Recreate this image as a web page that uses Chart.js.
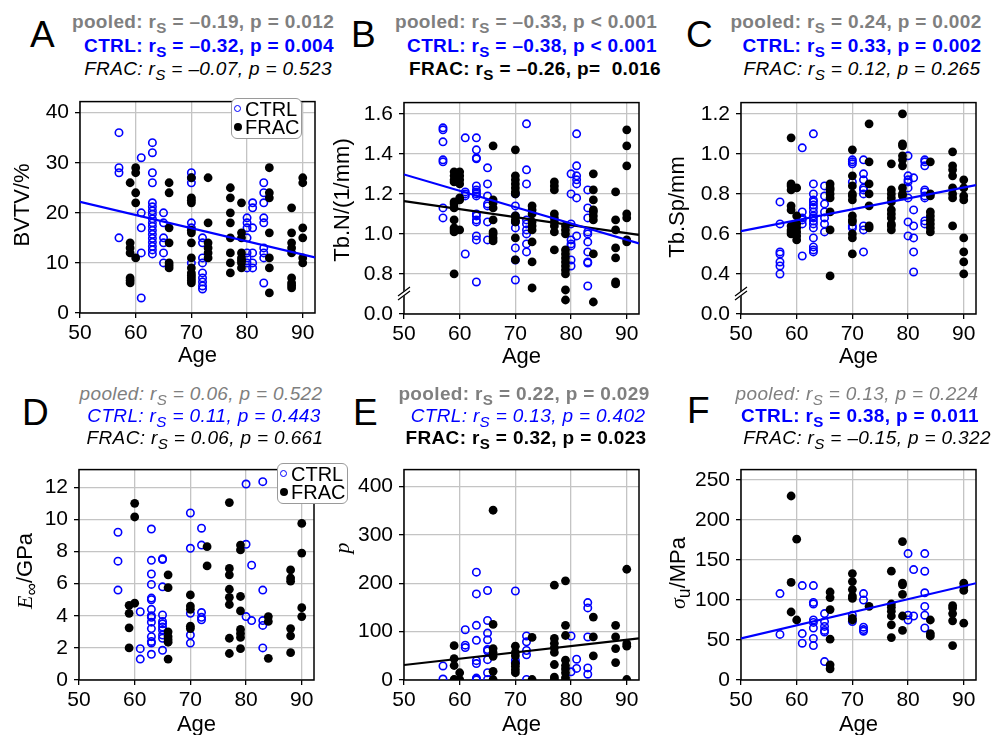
<!DOCTYPE html>
<html>
<head>
<meta charset="utf-8">
<script src="https://cdn.jsdelivr.net/npm/chart.js@4.4.1/dist/chart.umd.min.js"></script>
<style>
body { margin: 0; background: #fff; width: 993px; height: 735px; overflow: hidden; position: relative; font-family: "Liberation Sans", Arial, sans-serif; }
canvas { position: absolute; }
.t { position: absolute; width: 400px; text-align: center; font-size: 19px; line-height: 19px; letter-spacing: 0.35px; white-space: nowrap; }
.b { font-weight: bold; }
.i { font-style: italic; }
.g { color: #7f7f7f; }
.bl { color: #0000ff; }
.k { color: #000; }
.s { font-size: 0.8em; position: relative; top: 0.3em; }
.lt { position: absolute; font-size: 37px; line-height: 37px; }
.yt { position: absolute; font-size: 22px; line-height: 22px; white-space: nowrap; transform: translate(-50%, -50%) rotate(-90deg); }
.serif { font-family: "Liberation Serif", "DejaVu Serif", serif; font-style: italic; }
.leg { position: absolute; box-sizing: border-box; width: 71px; height: 41px; border: 1px solid #9a9a9a; border-radius: 6px; background: #fff; font-size: 20px; line-height: 20px; }
.leg .mc { position: absolute; left: 2px; top: 6px; width: 5px; height: 5px; border: 1.5px solid #0000ff; border-radius: 50%; }
.leg .mf { position: absolute; left: 2px; top: 24px; width: 8px; height: 8px; background: #000; border-radius: 50%; }
.leg .l1 { position: absolute; left: 13px; top: 0px; }
.leg .l2 { position: absolute; left: 13px; top: 18px; }
</style>
</head>
<body>

<canvas id="cA" width="305" height="286" style="left:20px;top:83px"></canvas>
<canvas id="cB" width="305" height="286" style="left:344px;top:84px"></canvas>
<canvas id="cC" width="305" height="286" style="left:681px;top:84px"></canvas>
<canvas id="cD" width="305" height="287" style="left:19px;top:451px"></canvas>
<canvas id="cE" width="305" height="287" style="left:344px;top:451px"></canvas>
<canvas id="cF" width="305" height="287" style="left:681px;top:451px"></canvas>

<div class="lt" style="left:30px;top:16px">A</div>
<div class="lt" style="left:351px;top:16px">B</div>
<div class="lt" style="left:686px;top:16px">C</div>
<div class="lt" style="left:22px;top:394px">D</div>
<div class="lt" style="left:353px;top:394px">E</div>
<div class="lt" style="left:687px;top:392px">F</div>

<div class="t b g" style="left:3px;top:12px">pooled: r<span class="s">S</span> = –0.19, p = 0.012</div>
<div class="t b bl" style="left:9px;top:36px">CTRL: r<span class="s">S</span> = –0.32, p = 0.004</div>
<div class="t i k" style="left:8px;top:59px">FRAC: r<span class="s">S</span> = –0.07, p = 0.523</div>

<div class="t b g" style="left:326px;top:12px">pooled: r<span class="s">S</span> = –0.33, p &lt; 0.001</div>
<div class="t b bl" style="left:332px;top:36px">CTRL: r<span class="s">S</span> = –0.38, p &lt; 0.001</div>
<div class="t b k" style="left:335px;top:59px">FRAC: r<span class="s">S</span> = –0.26, p=&nbsp; 0.016</div>

<div class="t b g" style="left:656px;top:12px">pooled: r<span class="s">S</span> = 0.24, p = 0.002</div>
<div class="t b bl" style="left:662px;top:36px">CTRL: r<span class="s">S</span> = 0.33, p = 0.002</div>
<div class="t i k" style="left:662px;top:59px">FRAC: r<span class="s">S</span> = 0.12, p = 0.265</div>

<div class="t i g" style="left:1px;top:384px">pooled: r<span class="s">S</span> = 0.06, p = 0.522</div>
<div class="t i bl" style="left:4px;top:406px">CTRL: r<span class="s">S</span> = 0.11, p = 0.443</div>
<div class="t i k" style="left:5px;top:428px">FRAC: r<span class="s">S</span> = 0.06, p = 0.661</div>

<div class="t b g" style="left:324px;top:384px">pooled: r<span class="s">S</span> = 0.22, p = 0.029</div>
<div class="t i bl" style="left:328px;top:406px">CTRL: r<span class="s">S</span> = 0.13, p = 0.402</div>
<div class="t b k" style="left:326px;top:428px">FRAC: r<span class="s">S</span> = 0.32, p = 0.023</div>

<div class="t i g" style="left:657px;top:384px">pooled: r<span class="s">S</span> = 0.13, p = 0.224</div>
<div class="t b bl" style="left:660px;top:406px">CTRL: r<span class="s">S</span> = 0.38, p = 0.011</div>
<div class="t i k" style="left:667px;top:428px">FRAC: r<span class="s">S</span> = –0.15, p = 0.322</div>

<div class="yt" style="left:22px;top:205px">BVTV/%</div>
<div class="yt" style="left:342px;top:200px">Tb.N/(1/mm)</div>
<div class="yt" style="left:677px;top:207px">Tb.Sp/mm</div>
<div class="yt" style="left:25px;top:571px"><span class="serif">E</span><span class="s">∞</span>/GPa</div>
<div class="yt" style="left:342px;top:548px"><span class="serif">p</span></div>
<div class="yt" style="left:678px;top:573px"><span class="serif">σ</span><span class="s">u</span>/MPa</div>

<div class="leg" style="left:231px;top:98px"><span class="mc"></span><span class="l1">CTRL</span><span class="mf"></span><span class="l2">FRAC</span></div>
<div class="leg" style="left:277px;top:463px"><span class="mc"></span><span class="l1">CTRL</span><span class="mf"></span><span class="l2">FRAC</span></div>

<script>
// x axis (age) shared by all panels
const ageTicks = [50, 60, 70, 80, 90];
const fitAges = [50, 92.2];

// A - BVTV/%
const bvtvCtrl = [
    [57, [36, 29, 28, 15]],
    [61, [31, 20, 17, 12, 3]],
    [63, [34, 32, 28, 26, 22, 21.2, 20.4, 19.7, 18.8, 18, 17.3, 16.5, 15.7, 14.9, 14.1, 13.3, 12.6, 11.8]],
    [65, [20, 18, 15, 14, 12, 10]],
    [70, [28, 27, 26, 18, 17, 10]],
    [72, [15, 14, 11, 10, 8, 7, 6.2, 5.4, 4.8]],
    [80, [19, 18, 17, 15, 12, 11, 10, 9]],
    [81, [22, 21, 17, 12, 10, 9]],
    [83, [26, 24, 22, 19, 18, 13, 12, 11, 6]]
];
const bvtvFrac = [
    [59, [26, 14, 13, 12, 7, 6.5, 6]],
    [60, [29, 28, 24, 22, 11]],
    [66, [26, 24, 17, 14, 10, 9.5, 9]],
    [70, [27, 23, 22.5, 22, 16.5, 16, 14, 11, 9, 8, 7.5, 7, 6.5, 6]],
    [73, [27, 18, 14, 13, 12, 11]],
    [77, [25, 23, 20, 18, 15, 12, 10, 8]],
    [79, [22, 16, 15, 12, 11, 10.5, 10, 9]],
    [84, [29, 24, 23, 16, 11, 9, 4]],
    [88, [21, 16, 14, 13, 12, 7, 6, 5.5, 5]],
    [90, [27, 26, 17, 15, 11, 10]]
];
const bvtvTicks = [0, 10, 20, 30, 40];
const bvtvLabels = ['0', '10', '20', '30', '40'];
const bvtvCtrlFit = [22.2, 11.1];

// B - Tb.N (axis broken, bottom tick shows 0.0)
const tbnCtrl = [
    [57, [1.53, 1.52, 1.46, 1.37, 1.36, 1.13, 1.08]],
    [61, [1.48, 1.21, 1.20, 1.19, 0.90]],
    [63, [1.48, 1.42, 1.38, 1.375, 1.24, 1.22, 1.21, 1.20, 1.19, 1.10, 1.09, 1.07, 1.06, 0.99, 0.97, 0.76]],
    [65, [1.33, 1.25, 1.19, 1.15, 1.14, 1.06, 0.97]],
    [70, [1.20, 1.14, 1.09, 1.06, 1.03, 0.93, 0.87, 0.77]],
    [72, [1.55, 1.32, 1.25, 1.07, 1.05, 1.02, 1.00, 0.95, 0.91]],
    [80, [1.30, 1.20, 1.05, 0.97, 0.95, 0.94, 0.87, 0.84]],
    [81, [1.50, 1.34, 1.29, 1.27, 1.25, 1.18, 0.99]],
    [83, [1.22, 1.13, 1.08, 1.01, 1.00, 0.96, 0.91, 0.86, 0.855, 0.74]]
];
const tbnFrac = [
    [59, [1.31, 1.29, 1.27, 1.26, 1.16, 1.15, 1.13, 1.07, 1.03, 1.02, 1.01, 0.80]],
    [60, [1.31, 1.29, 1.27, 1.25, 1.18, 1.17, 1.02]],
    [66, [1.44, 1.17, 1.155, 1.13, 1.07, 1.01, 1.00, 0.98, 0.965]],
    [70, [1.42, 1.29, 1.27, 1.25, 1.23, 1.21, 1.20, 1.09, 1.07, 1.06, 0.98, 0.87]],
    [73, [1.14, 1.12, 1.10, 1.06, 1.04, 1.02, 0.96, 0.86, 0.73]],
    [77, [1.26, 1.24, 1.22, 1.10, 1.08, 1.06, 1.04, 1.01, 0.92]],
    [79, [1.04, 1.02, 1.00, 0.92, 0.90, 0.88, 0.86, 0.84, 0.82, 0.80, 0.72, 0.67]],
    [84, [1.30, 1.22, 1.17, 1.12, 1.11, 1.09, 1.07, 0.90, 0.66]],
    [88, [1.21, 1.07, 1.02, 0.93, 0.88, 0.76, 0.75]],
    [90, [1.52, 1.44, 1.34, 1.10, 1.08, 0.97, 0.96]]
];
const tbnTicks = [0.6, 0.8, 1.0, 1.2, 1.4, 1.6];
const tbnLabels = ['0.0', '0.8', '1.0', '1.2', '1.4', '1.6'];
const tbnCtrlFit = [1.297, 0.953];
const tbnFracFit = [1.164, 0.995];

// C - Tb.Sp (axis broken, bottom tick shows 0.0)
const tbspCtrl = [
    [57, [0.76, 0.65, 0.51, 0.50, 0.46, 0.44, 0.40]],
    [61, [1.03, 0.71, 0.68, 0.67, 0.65, 0.49]],
    [63, [1.10, 0.85, 0.80, 0.77, 0.76, 0.745, 0.73, 0.71, 0.69, 0.68, 0.665, 0.65, 0.63, 0.58, 0.535, 0.52, 0.51]],
    [65, [0.84, 0.79, 0.75, 0.71, 0.68, 0.65, 0.61]],
    [70, [0.97, 0.96, 0.95, 0.86, 0.64, 0.63]],
    [72, [0.97, 0.90, 0.87, 0.83, 0.82, 0.80, 0.64, 0.62, 0.51]],
    [80, [0.99, 0.89, 0.87, 0.86, 0.83, 0.78, 0.66, 0.59]],
    [81, [0.88, 0.72, 0.64, 0.58, 0.51, 0.41]],
    [83, [0.97, 0.96, 0.94, 0.82, 0.81, 0.79, 0.78, 0.665, 0.65]]
];
const tbspFrac = [
    [59, [1.08, 0.85, 0.84, 0.82, 0.74, 0.72, 0.64, 0.62, 0.61, 0.60]],
    [60, [0.83, 0.69, 0.65, 0.63, 0.61, 0.59, 0.57]],
    [66, [0.85, 0.83, 0.82, 0.80, 0.78, 0.71, 0.62, 0.39]],
    [70, [1.02, 0.89, 0.84, 0.80, 0.79, 0.77, 0.69, 0.67, 0.66, 0.60, 0.58, 0.50]],
    [73, [1.15, 0.96, 0.85, 0.80, 0.74, 0.64, 0.63]],
    [77, [0.95, 0.82, 0.80, 0.78, 0.76, 0.72, 0.70, 0.68, 0.65, 0.64, 0.62]],
    [79, [1.20, 1.05, 1.04, 0.99, 0.97, 0.94, 0.83, 0.80, 0.79]],
    [84, [0.96, 0.80, 0.79, 0.71, 0.69, 0.67, 0.65, 0.63, 0.61]],
    [88, [1.01, 0.94, 0.92, 0.89, 0.83, 0.80, 0.78, 0.64]],
    [90, [0.87, 0.83, 0.79, 0.77, 0.58, 0.51, 0.46, 0.40]]
];
const tbspTicks = [0.2, 0.4, 0.6, 0.8, 1.0, 1.2];
const tbspLabels = ['0.0', '0.4', '0.6', '0.8', '1.0', '1.2'];
const tbspCtrlFit = [0.614, 0.844];

// D - E_inf / GPa
const einfCtrl = [
    [57, [9.2, 7.4, 5.6]],
    [61, [4.25, 1.95, 1.3]],
    [63, [9.4, 7.45, 6.6, 5.95, 5.1, 5.0, 4.4, 4.0, 3.9, 3.6, 3.2, 2.7, 2.4, 2.3, 1.6]],
    [65, [7.55, 7.5, 5.8, 4.05, 3.65, 3.5, 3.3, 3.1, 2.8, 2.6, 1.85]],
    [70, [10.4, 8.2, 4.15, 2.8, 2.3]],
    [72, [9.45, 8.4, 4.2, 3.9, 3.75]],
    [80, [12.2, 8.45, 3.95]],
    [81, [7.15, 3.7]],
    [83, [12.35, 5.6, 3.7, 3.4, 2.0]]
];
const einfFrac = [
    [59, [4.65, 4.15, 3.25, 2.0]],
    [60, [11.0, 10.15, 4.78]],
    [66, [6.55, 5.75, 3.0, 2.7, 2.5, 2.35, 1.3]],
    [70, [5.3, 4.6, 4.4, 3.35, 3.2]],
    [73, [8.3, 7.1]],
    [77, [11.05, 6.95, 6.55, 5.65, 5.15, 4.7, 2.6, 1.65]],
    [79, [8.4, 8.1, 5.2, 4.3, 3.15, 2.9, 2.65, 1.95]],
    [84, [3.95, 3.65, 1.35]],
    [88, [6.85, 6.35, 6.15, 3.2, 2.75, 1.7]],
    [90, [9.75, 7.9, 4.5, 3.95]]
];
const einfTicks = [0, 2, 4, 6, 8, 10, 12];
const einfLabels = ['0', '2', '4', '6', '8', '10', '12'];

// E - p
const pCtrl = [
    [57, [29, 2]],
    [61, [104, 72, 67]],
    [63, [223, 178, 113, 82, 40, 34, 4, 2, 0]],
    [65, [185, 123, 97, 83, 63, 60, 42, 15, 1]],
    [70, [184, 41, 36]],
    [72, [91, 79, 61, 52, 1]],
    [80, [91, 17]],
    [81, [43, 24]],
    [83, [160, 149, 89, 25, 12]]
];
const pFrac = [
    [59, [71, 44, 30, 1, 0]],
    [60, [15, 1]],
    [66, [351, 115, 65, 57, 49, 18, 1]],
    [70, [70, 57, 50, 34, 28, 21, 15]],
    [73, [88, 1]],
    [77, [196, 86, 76, 67, 57, 32, 6, 2]],
    [79, [205, 113, 92, 41, 30, 23, 15, 5, 0]],
    [84, [130, 89, 50]],
    [88, [113, 89, 65, 36]],
    [90, [229, 75, 70, 1]]
];
const pTicks = [0, 100, 200, 300, 400];
const pLabels = ['0', '100', '200', '300', '400'];
const pFracFit = [31, 86];

// F - sigma_u / MPa
const sigCtrl = [
    [57, [108, 57]],
    [61, [118, 58, 46]],
    [63, [118, 97, 95, 75, 72, 65, 52, 43]],
    [65, [83, 73, 67, 62, 60, 23]],
    [70, [81, 73]],
    [72, [108, 100, 66, 63, 61]],
    [80, [158, 81, 75]],
    [81, [138, 80]],
    [83, [158, 136, 109, 92, 81, 65]]
];
const sigFrac = [
    [59, [230, 122, 85]],
    [60, [176, 75]],
    [66, [110, 103, 88, 51, 19, 14]],
    [70, [133, 123, 113, 105, 102, 77, 75]],
    [73, [92]],
    [77, [136, 95, 91, 86, 80, 69, 53]],
    [79, [173, 121, 119, 107, 80, 62]],
    [84, [75, 58, 55]],
    [88, [93, 90, 83, 74, 43]],
    [90, [121, 117, 112, 71]]
];
const sigTicks = [0, 50, 100, 150, 200, 250];
const sigLabels = ['0', '50', '100', '150', '200', '250'];
const sigCtrlFit = [52, 121];

const BLUE = '#0000ff';
const BLACK = '#000000';
Chart.defaults.font.family = '"Liberation Sans", Arial, sans-serif';

function toPoints(rows) {
    const pts = [];
    rows.forEach(([age, vals]) => vals.forEach(v => pts.push({ x: age, y: v })));
    return pts;
}

function fitLine(vals, color) {
    return {
        type: 'line',
        data: fitAges.map((a, i) => ({ x: a, y: vals[i] })),
        borderColor: color,
        borderWidth: 2.2,
        pointRadius: 0,
        order: 1
    };
}

function makePanel(id, ctrl, frac, yMin, yMax, ticks, labels, fits, xh, brk) {
    const framePlugin = {
        id: 'frame',
        beforeDatasetsDraw(chart) {
            const { ctx, chartArea: a } = chart;
            ctx.save();
            ctx.strokeStyle = '#000';
            ctx.lineWidth = 1.5;
            ctx.strokeRect(a.left, a.top, a.right - a.left, a.bottom - a.top);
            ctx.restore();
        },
        afterDraw(chart) {
            if (brk === undefined) return;
            // the "//" mark on the broken y axis
            const { ctx, chartArea: a } = chart;
            const x = a.left;
            const y = chart.scales.y.getPixelForValue(brk);
            ctx.save();
            ctx.fillStyle = '#fff';
            ctx.beginPath();
            ctx.moveTo(x - 5, y + 1);
            ctx.lineTo(x + 5, y - 7);
            ctx.lineTo(x + 5, y - 2);
            ctx.lineTo(x - 5, y + 6);
            ctx.closePath();
            ctx.fill();
            ctx.strokeStyle = '#000';
            ctx.lineWidth = 1.2;
            ctx.beginPath();
            ctx.moveTo(x - 6, y + 2);
            ctx.lineTo(x + 6, y - 7);
            ctx.moveTo(x - 6, y + 6);
            ctx.lineTo(x + 6, y - 3);
            ctx.stroke();
            ctx.restore();
        }
    };

    const datasets = fits.map(f => fitLine(f[0], f[1]));
    datasets.push({
        label: 'FRAC',
        data: toPoints(frac),
        pointRadius: 4.4,
        pointBorderWidth: 0,
        backgroundColor: BLACK,
        borderColor: BLACK,
        order: 2
    });
    datasets.push({
        label: 'CTRL',
        data: toPoints(ctrl),
        pointRadius: 3.7,
        pointBorderWidth: 1.6,
        backgroundColor: 'rgba(0,0,0,0)',
        borderColor: BLUE,
        order: 3
    });

    const gridOpts = { color: '#c4c4c4', lineWidth: 1.3, tickLength: 5, tickColor: '#000', tickWidth: 1.3 };

    new Chart(document.getElementById(id), {
        type: 'scatter',
        data: { datasets: datasets },
        plugins: [framePlugin],
        options: {
            responsive: false,
            animation: false,
            layout: { padding: { top: 5, right: 10, left: 0, bottom: 0 } },
            plugins: { legend: { display: false }, tooltip: { enabled: false } },
            scales: {
                x: {
                    type: 'linear',
                    min: 50,
                    max: 92.2,
                    afterBuildTicks: s => { s.ticks = ageTicks.map(v => ({ value: v })); },
                    afterFit: s => { s.height = xh; },
                    ticks: { font: { size: 21 }, color: '#000', padding: 3, maxRotation: 0, autoSkip: false },
                    grid: gridOpts,
                    border: { display: false },
                    title: { display: true, text: 'Age', font: { size: 22 }, color: '#000', padding: 0 }
                },
                y: {
                    type: 'linear',
                    min: yMin,
                    max: yMax,
                    afterBuildTicks: s => { s.ticks = ticks.map(v => ({ value: v })); },
                    afterFit: s => { s.width = 60; },
                    ticks: { font: { size: 21 }, color: '#000', padding: 6, autoSkip: false, callback: (v, i) => labels[i] },
                    grid: gridOpts,
                    border: { display: false }
                }
            }
        }
    });
}

makePanel('cA', bvtvCtrl, bvtvFrac, 0, 42.2, bvtvTicks, bvtvLabels, [[bvtvCtrlFit, BLUE]], 56);
makePanel('cB', tbnCtrl, tbnFrac, 0.6, 1.656, tbnTicks, tbnLabels, [[tbnCtrlFit, BLUE], [tbnFracFit, BLACK]], 56, 0.7);
makePanel('cC', tbspCtrl, tbspFrac, 0.2, 1.256, tbspTicks, tbspLabels, [[tbspCtrlFit, BLUE]], 56, 0.3);
makePanel('cD', einfCtrl, einfFrac, 0, 13.1, einfTicks, einfLabels, [], 58);
makePanel('cE', pCtrl, pFrac, 0, 435, pTicks, pLabels, [[pFracFit, BLACK]], 58);
makePanel('cF', sigCtrl, sigFrac, 0, 263, sigTicks, sigLabels, [[sigCtrlFit, BLUE]], 58);
</script>
</body>
</html>
